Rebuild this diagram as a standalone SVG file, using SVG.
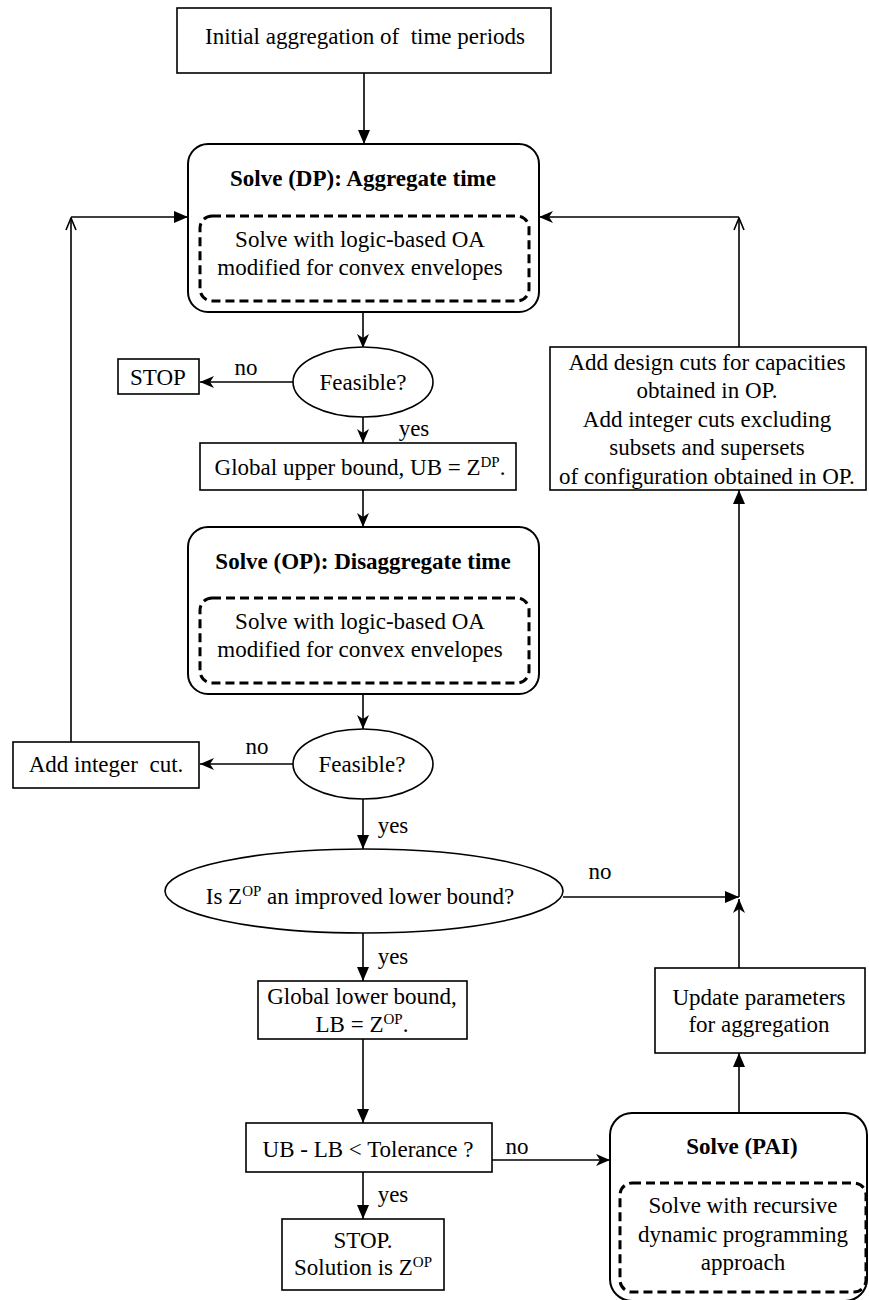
<svg xmlns="http://www.w3.org/2000/svg" width="869" height="1300" viewBox="0 0 869 1300">
<style>
text{font-family:"Liberation Serif","Times New Roman",serif;font-size:23px;fill:#000;text-anchor:middle}
.b{font-weight:bold}
.sup{font-size:15px}
.box{fill:#fff;stroke:#000;stroke-width:1.6}
.rbox{fill:#fff;stroke:#000;stroke-width:2}
.dash{fill:none;stroke:#000;stroke-width:3;stroke-dasharray:9 5}
.dec{fill:#fff;stroke:#000;stroke-width:1.6}
.c{fill:none;stroke:#000;stroke-width:1.6}
.t{marker-end:url(#tri)}
.s{marker-end:url(#stealth)}
.o{marker-end:url(#openv)}
</style>
<defs>
<marker id="tri" viewBox="0 0 14 12" refX="14" refY="6" markerWidth="14" markerHeight="12" markerUnits="userSpaceOnUse" orient="auto"><path d="M0,0 L14,6 L0,12 z" fill="#000"/></marker>
<marker id="stealth" viewBox="0 0 14 12" refX="14" refY="6" markerWidth="14" markerHeight="12" markerUnits="userSpaceOnUse" orient="auto"><path d="M0,0 L14,6 L0,12 L4,6 z" fill="#000"/></marker>
<marker id="openv" viewBox="0 0 14 12" refX="13" refY="6" markerWidth="14" markerHeight="12" markerUnits="userSpaceOnUse" orient="auto"><path d="M1,1 L13,6 L1,11" fill="none" stroke="#000" stroke-width="1.6"/></marker>
</defs>

<g id="connectors">
<path class="c t" d="M364,73 V144"/>
<path class="c s" d="M363,312 V348"/>
<path class="c s" d="M293,382 H200"/>
<path class="c s" d="M363,417 V443"/>
<path class="c s" d="M363,490 V527"/>
<path class="c s" d="M363,694 V729"/>
<path class="c s" d="M293,764 H200"/>
<path class="c t" d="M363,799 V849"/>
<path class="c t" d="M563,897 H739"/>
<path class="c s" d="M739,968 V899"/>
<path class="c t" d="M739,897 V490"/>
<path class="c t" d="M363,933 V981"/>
<path class="c t" d="M363,1039 V1123"/>
<path class="c t" d="M363,1172 V1219"/>
<path class="c s" d="M492,1160 H610"/>
<path class="c t" d="M739,1113 V1053"/>
<path class="c o" d="M71,742 V218"/>
<path class="c t" d="M71,217 H188"/>
<path class="c o" d="M739,347 V218"/>
<path class="c s" d="M739,217 H539"/>
</g>

<g id="labels">
<text x="246" y="375">no</text>
<text x="414" y="436">yes</text>
<text x="257" y="754">no</text>
<text x="393" y="833">yes</text>
<text x="600" y="879">no</text>
<text x="393" y="964">yes</text>
<text x="517" y="1154">no</text>
<text x="393" y="1202">yes</text>
</g>

<g id="init">
<rect class="box" x="177" y="8" width="374" height="65"/>
<text x="365" y="44" xml:space="preserve" style="white-space:pre">Initial aggregation of  time periods</text>
</g>

<g id="solveDP">
<rect class="rbox" x="188" y="144" width="351" height="168" rx="20"/>
<text class="b" x="363" y="186">Solve (DP): Aggregate time</text>
<rect class="dash" x="200" y="216" width="329" height="85" rx="12"/>
<text x="360" y="247">Solve with logic-based OA</text>
<text x="360" y="275">modified for convex envelopes</text>
</g>

<g id="feasible1">
<ellipse class="dec" cx="363" cy="382" rx="70" ry="35"/>
<text x="363" y="390">Feasible?</text>
</g>

<g id="stop1">
<rect class="box" x="118" y="359" width="81" height="35"/>
<text x="158" y="385">STOP</text>
</g>

<g id="ub">
<rect class="box" x="200" y="443" width="316" height="47"/>
<text x="360" y="475">Global upper bound, UB = Z<tspan class="sup" dy="-8">DP</tspan><tspan dy="8">.</tspan></text>
</g>

<g id="solveOP">
<rect class="rbox" x="188" y="527" width="351" height="167" rx="20"/>
<text class="b" x="363" y="569">Solve (OP): Disaggregate time</text>
<rect class="dash" x="200" y="598" width="329" height="85" rx="12"/>
<text x="360" y="629">Solve with logic-based OA</text>
<text x="360" y="657">modified for convex envelopes</text>
</g>

<g id="feasible2">
<ellipse class="dec" cx="363" cy="764" rx="70" ry="35"/>
<text x="362" y="772">Feasible?</text>
</g>

<g id="intcut">
<rect class="box" x="13" y="742" width="186" height="46"/>
<text x="106" y="772" xml:space="preserve" style="white-space:pre">Add integer  cut.</text>
</g>

<g id="improved">
<ellipse class="dec" cx="364" cy="891" rx="199" ry="42"/>
<text x="360" y="904">Is Z<tspan class="sup" dy="-8">OP</tspan><tspan dy="8"> an improved lower bound?</tspan></text>
</g>

<g id="lb">
<rect class="box" x="258" y="981" width="209" height="58"/>
<text x="362" y="1004">Global lower bound,</text>
<text x="362" y="1032">LB = Z<tspan class="sup" dy="-8">OP</tspan><tspan dy="8">.</tspan></text>
</g>

<g id="tol">
<rect class="box" x="246" y="1123" width="246" height="49"/>
<text x="368" y="1157">UB - LB &lt; Tolerance ?</text>
</g>

<g id="stop2">
<rect class="box" x="282" y="1219" width="162" height="71"/>
<text x="363" y="1248">STOP.</text>
<text x="363" y="1275">Solution is Z<tspan class="sup" dy="-8">OP</tspan></text>
</g>

<g id="designcuts">
<rect class="box" x="550" y="347" width="316" height="143"/>
<text x="707" y="370">Add design cuts for capacities</text>
<text x="707" y="398">obtained in OP.</text>
<text x="707" y="427">Add integer cuts excluding</text>
<text x="707" y="455">subsets and supersets</text>
<text x="707" y="484">of configuration obtained in OP.</text>
</g>

<g id="update">
<rect class="box" x="655" y="968" width="210" height="85"/>
<text x="759" y="1005">Update parameters</text>
<text x="759" y="1032">for aggregation</text>
</g>

<g id="solvePAI">
<rect class="rbox" x="610" y="1113" width="257" height="188" rx="22"/>
<text class="b" x="742" y="1154">Solve (PAI)</text>
<rect class="dash" x="620" y="1183" width="246" height="109" rx="12"/>
<text x="743" y="1213">Solve with recursive</text>
<text x="743" y="1242">dynamic programming</text>
<text x="743" y="1270">approach</text>
</g>
</svg>
